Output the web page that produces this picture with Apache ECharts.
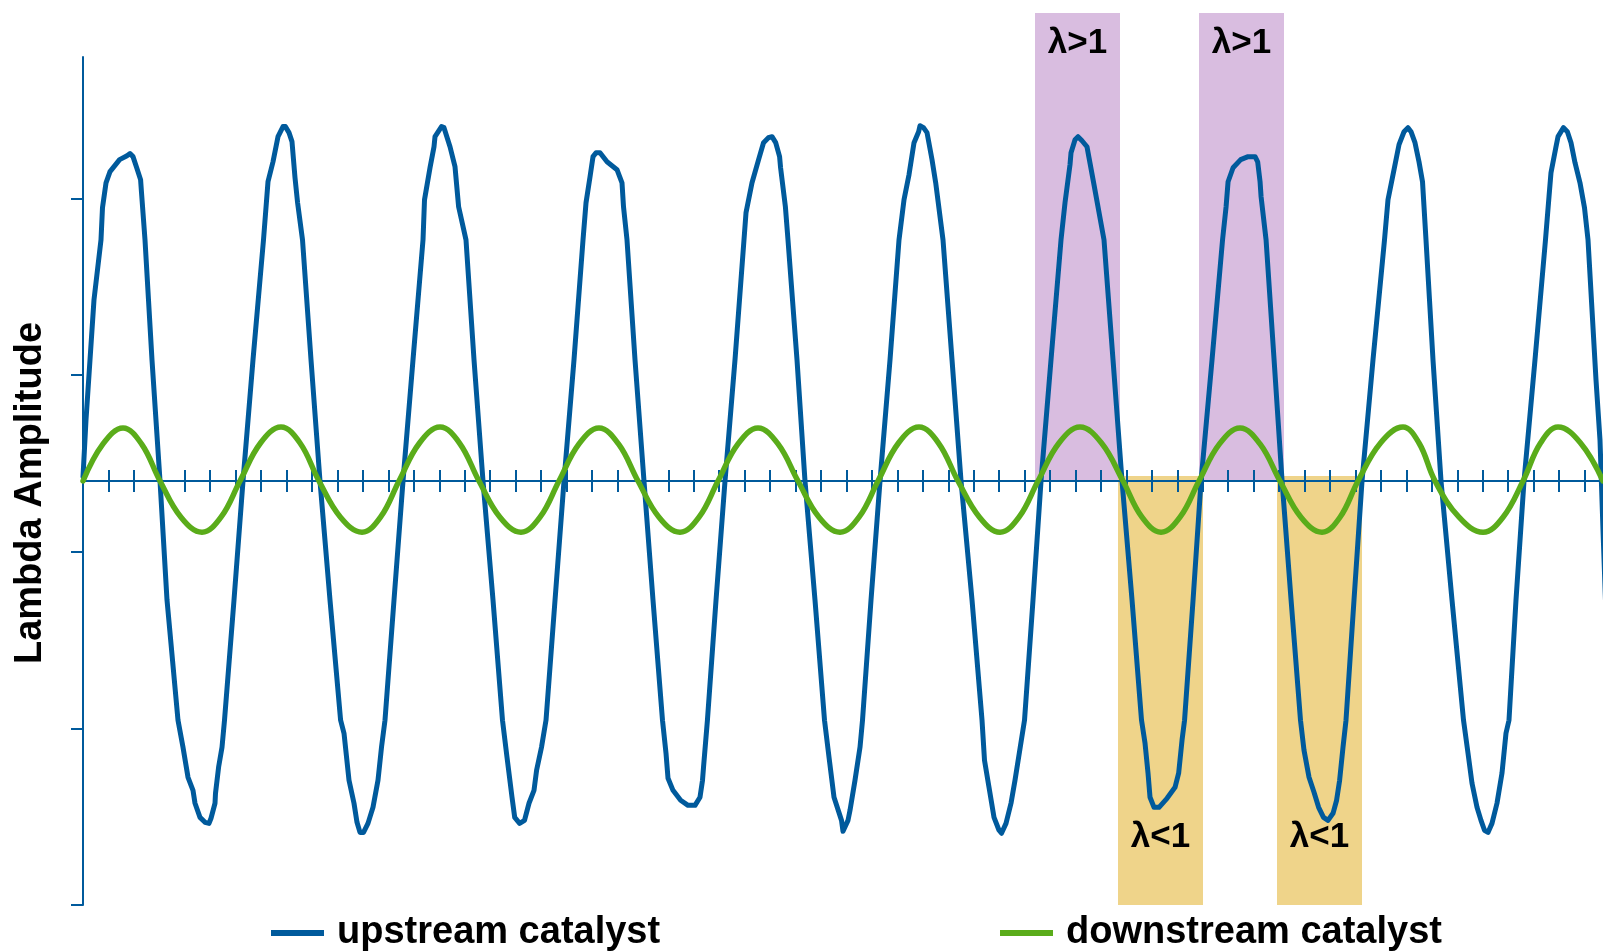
<!DOCTYPE html>
<html>
<head>
<meta charset="utf-8">
<script src="https://cdn.jsdelivr.net/npm/echarts/dist/echarts.min.js"></script>
<style>
html,body{margin:0;padding:0;background:#fff;}
#chart{width:1603px;height:952px;}
</style>
</head>
<body>
<div id="chart"></div>
<script>
// ---- data (x in axis-tick units, y in lambda-amplitude units) ----
const seriesNames = ['upstream catalyst', 'downstream catalyst'];
const yAxisTitle = 'Lambda Amplitude';

const upstream = [
[0,0.023],[0.118,0.346],[0.275,0.686],[0.432,1.026],[0.707,1.365],[0.766,1.547],[0.904,1.688],[1.061,1.751],[1.438,1.819],[1.729,1.841],[1.847,1.853],[1.965,1.836],[2.110,1.773],[2.263,1.705],[2.299,1.632],[2.436,1.365],[2.711,0.686],[3.026,0],[3.301,-0.674],[3.733,-1.354],[3.929,-1.507],[4.126,-1.677],[4.322,-1.751],[4.401,-1.824],[4.597,-1.904],[4.794,-1.932],[4.951,-1.938],[5.030,-1.909],[5.187,-1.824],[5.206,-1.768],[5.328,-1.620],[5.462,-1.507],[5.560,-1.354],[5.933,-0.674],[6.287,0],[6.680,0.686],[7.092,1.365],[7.269,1.694],[7.466,1.807],[7.662,1.949],[7.859,2.006],[7.953,2.006],[8.094,1.972],[8.212,1.921],[8.330,1.717],[8.432,1.575],[8.625,1.365],[8.959,0.686],[9.312,0],[9.705,-0.674],[10.122,-1.354],[10.256,-1.428],[10.452,-1.694],[10.648,-1.824],[10.766,-1.932],[10.884,-1.989],[11.022,-1.989],[11.198,-1.938],[11.395,-1.847],[11.591,-1.694],[11.729,-1.507],[11.866,-1.354],[12.220,-0.674],[12.574,0],[12.967,0.686],[13.360,1.365],[13.419,1.592],[13.635,1.773],[13.792,1.892],[13.831,1.949],[14.087,2.006],[14.185,2.000],[14.421,1.892],[14.617,1.779],[14.759,1.552],[15.049,1.365],[15.364,0.686],[15.717,0],[16.110,-0.674],[16.483,-1.354],[16.660,-1.564],[16.857,-1.790],[16.963,-1.904],[17.156,-1.938],[17.348,-1.921],[17.525,-1.824],[17.721,-1.751],[17.823,-1.637],[18.016,-1.507],[18.193,-1.354],[18.547,-0.674],[18.900,0],[19.293,0.686],[19.647,1.365],[19.765,1.575],[19.922,1.722],[20.040,1.836],[20.158,1.858],[20.315,1.858],[20.590,1.807],[20.983,1.762],[21.179,1.688],[21.238,1.552],[21.375,1.365],[21.690,0.686],[22.043,0],[22.397,-0.674],[22.770,-1.354],[22.908,-1.541],[22.987,-1.683],[23.183,-1.751],[23.482,-1.807],[23.773,-1.836],[24.048,-1.836],[24.244,-1.790],[24.342,-1.694],[24.382,-1.620],[24.535,-1.354],[24.873,-0.674],[25.226,0],[25.619,0.686],[25.972,1.365],[26.051,1.518],[26.287,1.688],[26.546,1.819],[26.739,1.915],[26.931,1.943],[27.073,1.949],[27.218,1.915],[27.371,1.836],[27.410,1.773],[27.599,1.552],[27.701,1.365],[28.055,0.686],[28.369,0],[28.762,-0.674],[29.136,-1.354],[29.313,-1.564],[29.509,-1.790],[29.804,-1.921],[29.863,-1.983],[30.059,-1.921],[30.138,-1.864],[30.334,-1.694],[30.531,-1.507],[30.629,-1.354],[30.963,-0.674],[31.317,0],[31.710,0.686],[32.063,1.365],[32.260,1.592],[32.456,1.734],[32.653,1.915],[32.834,1.977],[32.888,2.011],[33.026,2.000],[33.164,1.972],[33.360,1.819],[33.505,1.688],[33.792,1.365],[34.146,0.686],[34.500,0],[34.932,-0.674],[35.325,-1.354],[35.423,-1.581],[35.600,-1.734],[35.796,-1.904],[35.993,-1.977],[36.091,-1.994],[36.268,-1.938],[36.464,-1.824],[36.621,-1.694],[36.763,-1.564],[36.995,-1.354],[37.328,-0.674],[37.643,0],[38.036,0.686],[38.429,1.365],[38.586,1.575],[38.782,1.790],[38.822,1.858],[38.979,1.932],[39.097,1.949],[39.254,1.926],[39.450,1.892],[39.529,1.830],[39.725,1.677],[40.118,1.365],[40.472,0.686],[40.826,0],[41.219,-0.674],[41.592,-1.354],[41.730,-1.484],[41.848,-1.654],[41.926,-1.790],[42.084,-1.847],[42.280,-1.847],[42.595,-1.796],[42.909,-1.734],[43.051,-1.654],[43.184,-1.467],[43.283,-1.354],[43.617,-0.674],[43.931,0],[44.363,0.686],[44.776,1.365],[44.915,1.552],[44.993,1.694],[45.189,1.773],[45.488,1.819],[45.779,1.836],[46.054,1.836],[46.156,1.807],[46.250,1.694],[46.290,1.609],[46.486,1.365],[46.801,0.686],[47.115,0],[47.469,-0.674],[47.839,-1.354],[47.977,-1.524],[48.174,-1.677],[48.370,-1.762],[48.551,-1.847],[48.743,-1.904],[48.920,-1.921],[49.117,-1.881],[49.258,-1.807],[49.376,-1.694],[49.509,-1.507],[49.627,-1.354],[49.941,-0.674],[50.256,0],[50.688,0.686],[51.140,1.365],[51.277,1.592],[51.513,1.762],[51.710,1.904],[51.906,1.977],[52.063,2.000],[52.181,1.977],[52.338,1.915],[52.495,1.807],[52.633,1.694],[52.770,1.365],[53.045,0.686],[53.360,0],[53.792,-0.674],[54.244,-1.354],[54.421,-1.541],[54.578,-1.711],[54.774,-1.847],[54.931,-1.921],[55.069,-1.977],[55.206,-1.989],[55.363,-1.938],[55.560,-1.824],[55.756,-1.654],[55.913,-1.428],[56.031,-1.354],[56.306,-0.674],[56.621,0],[57.053,0.686],[57.465,1.365],[57.603,1.609],[57.681,1.745],[57.878,1.892],[57.957,1.949],[58.173,2.000],[58.326,1.977],[58.468,1.915],[58.625,1.802],[58.821,1.688],[58.998,1.547],[59.136,1.365],[59.450,0.572],[59.607,0.232],[59.725,-0.278],[59.95,-1.2]
];

const downstream = [
[0,0],[0.786,0.21],[1.572,0.30],[2.299,0.21],[3.026,0],[3.851,-0.205],[4.676,-0.29],[5.422,-0.205],[6.169,0],[6.975,0.215],[7.780,0.305],[8.527,0.215],[9.273,0],[10.118,-0.205],[10.963,-0.29],[11.690,-0.205],[12.417,0],[13.222,0.215],[14.028,0.305],[14.794,0.215],[15.560,0],[16.385,-0.205],[17.210,-0.29],[17.957,-0.205],[18.703,0],[19.489,0.21],[20.275,0.30],[21.041,0.21],[21.808,0],[22.633,-0.205],[23.458,-0.29],[24.205,-0.205],[24.951,0],[25.737,0.21],[26.523,0.30],[27.309,0.21],[28.095,0],[28.920,-0.205],[29.745,-0.29],[30.491,-0.205],[31.238,0],[32.043,0.215],[32.849,0.305],[33.615,0.215],[34.381,0],[35.226,-0.205],[36.032,-0.29],[36.778,-0.205],[37.525,0],[38.350,0.215],[39.175,0.305],[40.020,0.215],[40.865,0],[41.611,-0.205],[42.358,-0.29],[43.104,-0.205],[43.851,0],[44.656,0.21],[45.462,0.30],[46.248,0.21],[47.034,0],[47.859,-0.205],[48.684,-0.29],[49.391,-0.205],[50.099,0],[50.983,0.215],[51.867,0.305],[52.496,0.215],[53.125,0],[54.068,-0.205],[55.011,-0.29],[55.797,-0.205],[56.583,0],[57.270,0.215],[57.958,0.305],[58.842,0.215],[59.725,0]
];

// lean (λ>1) and rich (λ<1) windows: [xStart, xEnd, yLow, yHigh]
const leanBands = [[37.407, 40.747, 0, 2.652], [43.851, 47.191, 0, 2.652]];
const richBands = [[40.668, 44.008, -2.4, 0.03], [46.916, 50.256, -2.4, 0.03]];
const leanLabel = 'λ>1';
const richLabel = 'λ<1';

const xTicks = Array.from({length: 59}, (_, i) => i + 1);
const yTicks = [-2.4, -1.4, -0.4, 0.6, 1.6];
const xMax = 59.725;

// ---- chart ----
const BLUE = '#005a9c';
const GREEN = '#5aac1a';
const FONT = '"Liberation Sans", Arial, sans-serif';

const chart = echarts.init(document.getElementById('chart'), null, {renderer: 'canvas'});

const axisTickCommon = {show: true, length: 11, customValues: xTicks, lineStyle: {color: BLUE, width: 2}};

const option = {
  animation: false,
  backgroundColor: '#fff',
  grid: [
    {left: 83, right: 0, top: 57, bottom: 47},
    {left: 83, right: 0, top: 13, bottom: 47}
  ],
  xAxis: [
    {type: 'value', gridIndex: 0, min: 0, max: xMax, position: 'bottom', z: 1,
     axisLine: {show: true, onZero: true, onZeroAxisIndex: 0, lineStyle: {color: BLUE, width: 2}},
     axisTick: Object.assign({inside: false}, axisTickCommon),
     axisLabel: {show: false}, splitLine: {show: false}},
    {type: 'value', gridIndex: 0, min: 0, max: xMax, position: 'top', z: 1,
     axisLine: {show: true, onZero: true, onZeroAxisIndex: 0, lineStyle: {color: BLUE, width: 2}},
     axisTick: Object.assign({inside: false}, axisTickCommon),
     axisLabel: {show: false}, splitLine: {show: false}},
    {type: 'value', gridIndex: 1, min: 0, max: xMax, show: false}
  ],
  yAxis: [
    {type: 'value', gridIndex: 0, min: -2.4, max: 2.4, z: 1,
     axisLine: {show: true, onZero: false, lineStyle: {color: BLUE, width: 2}},
     axisTick: {show: true, inside: false, length: 12, customValues: yTicks, lineStyle: {color: BLUE, width: 2}},
     axisLabel: {show: false}, splitLine: {show: false}},
    {type: 'value', gridIndex: 1, min: -2.4, max: 2.652, show: false}
  ],
  legend: [
    {data: [seriesNames[0]], left: 271, top: 913, padding: 0, icon: 'rect', itemWidth: 53, itemHeight: 6,
     selectedMode: false,
     textStyle: {fontFamily: FONT, fontWeight: 'bold', fontSize: 38, color: '#000', lineHeight: 40, padding: [0, 0, 0, 8]}},
    {data: [seriesNames[1]], left: 1000, top: 913, padding: 0, icon: 'rect', itemWidth: 53, itemHeight: 6,
     selectedMode: false,
     textStyle: {fontFamily: FONT, fontWeight: 'bold', fontSize: 38, color: '#000', lineHeight: 40, padding: [0, 0, 0, 8]}}
  ],
  graphic: [
    {type: 'text', x: 31, y: 493, rotation: Math.PI / 2, z: 10,
     style: {text: yAxisTitle, font: 'bold 38px ' + FONT, fill: '#000', textAlign: 'center', textVerticalAlign: 'middle'}}
  ],
  series: [
    {
      name: 'bands', type: 'line', xAxisIndex: 2, yAxisIndex: 1, data: [], silent: true,
      markArea: {
        silent: true, z: 0,
        data: leanBands.map(b => [
          {xAxis: b[0], yAxis: b[2], itemStyle: {color: '#d9bde0'},
           label: {show: true, position: 'insideTop', distance: 13, formatter: leanLabel,
                   fontFamily: FONT, fontWeight: 'bold', fontSize: 35, color: '#000'}},
          {xAxis: b[1], yAxis: b[3]}
        ]).concat(richBands.map(b => [
          {xAxis: b[0], yAxis: b[2], itemStyle: {color: '#efd48a'},
           label: {show: true, position: 'insideBottom', distance: 50, formatter: richLabel,
                   fontFamily: FONT, fontWeight: 'bold', fontSize: 35, color: '#000'}},
          {xAxis: b[1], yAxis: b[3]}
        ]))
      }
    },
    {
      name: seriesNames[0], type: 'line', xAxisIndex: 0, yAxisIndex: 0, data: upstream,
      showSymbol: false, symbol: 'none', z: 3, color: BLUE,
      lineStyle: {color: BLUE, width: 5, cap: 'round', join: 'round'}
    },
    {
      name: seriesNames[1], type: 'line', xAxisIndex: 0, yAxisIndex: 0, data: downstream,
      showSymbol: false, symbol: 'none', z: 4, smooth: 0.4, color: GREEN,
      lineStyle: {color: GREEN, width: 5.5, cap: 'round', join: 'round'}
    }
  ]
};
chart.setOption(option);
</script>
</body>
</html>
